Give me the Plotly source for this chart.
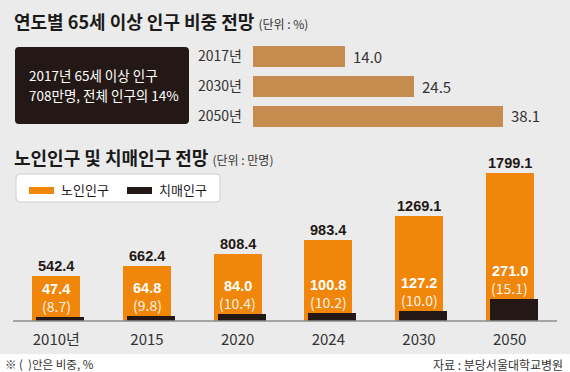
import plotly.graph_objects as go

# ---------------- data ----------------
share_years = ["2017년", "2030년", "2050년"]
share_values = [14.0, 24.5, 38.1]

pop_years = ["2010년", "2015", "2020", "2024", "2030", "2050"]
elderly_pop = [542.4, 662.4, 808.4, 983.4, 1269.1, 1799.1]
dementia_pop = [47.4, 64.8, 84.0, 100.8, 127.2, 271.0]
dementia_share = [8.7, 9.8, 10.4, 10.2, 10.0, 15.1]

W, H = 570, 372
def px(v):
    return v / W
def py(v):
    return 1 - v / H

BG = "#ebebeb"
ORANGE = "#f0860a"
DARK = "#231815"
TAN = "#c68b4f"
CJK = "Noto Sans CJK KR"
NARROW = "Liberation Sans Narrow, Noto Sans CJK KR"
SANS = "Liberation Sans, Noto Sans CJK KR"

fig = go.Figure()

# top horizontal bars
fig.add_trace(go.Bar(
    x=share_values, y=share_years, orientation="h",
    marker=dict(color=TAN, line=dict(width=0)), width=0.7,
    xaxis="x", yaxis="y", hoverinfo="skip", showlegend=False,
))

# bottom overlay bars
fig.add_trace(go.Bar(
    x=pop_years, y=elderly_pop, marker=dict(color=ORANGE, line=dict(width=0)),
    width=0.53, offset=-0.265, xaxis="x2", yaxis="y2",
    hoverinfo="skip", showlegend=False,
))
fig.add_trace(go.Bar(
    x=pop_years, y=dementia_pop, marker=dict(color=DARK, line=dict(width=0)),
    width=0.53, offset=-0.221, xaxis="x2", yaxis="y2",
    hoverinfo="skip", showlegend=False,
))

shapes = []
annotations = []

# gray background
shapes.append(dict(type="rect", xref="paper", yref="paper", x0=0, x1=1,
                   y0=py(354), y1=1, fillcolor=BG, line=dict(width=0), layer="below"))

def rounded(x0, y0, x1, y1, r):
    X0, X1 = px(x0), px(x1)
    Y0, Y1 = py(y0), py(y1)
    rx, ry = r / W, r / H
    return (f"M {X0+rx},{Y0} L {X1-rx},{Y0} Q {X1},{Y0} {X1},{Y0-ry} "
            f"L {X1},{Y1+ry} Q {X1},{Y1} {X1-rx},{Y1} L {X0+rx},{Y1} "
            f"Q {X0},{Y1} {X0},{Y1+ry} L {X0},{Y0-ry} Q {X0},{Y0} {X0+rx},{Y0} Z")

# dark info box
shapes.append(dict(type="path", xref="paper", yref="paper",
                   path=rounded(15, 47, 189, 124, 4), fillcolor=DARK,
                   line=dict(width=0), layer="below"))
annotations.append(dict(xref="paper", yref="paper", x=px(27), y=py(75),
                        xanchor="left", yanchor="middle", showarrow=False,
                        text="2017년 65세 이상 인구",
                        font=dict(family=NARROW, size=13.5, color="white")))
annotations.append(dict(xref="paper", yref="paper", x=px(27), y=py(95),
                        xanchor="left", yanchor="middle", showarrow=False,
                        text="708만명, 전체 인구의 14%",
                        font=dict(family=NARROW, size=13.5, color="white")))

# titles
annotations.append(dict(xref="paper", yref="paper", x=px(12), y=py(21),
                        xanchor="left", yanchor="middle", showarrow=False,
                        text="<b>연도별 65세 이상 인구 비중 전망</b> <span style='font-size:12px;color:#333333'>(단위 : %)</span>",
                        font=dict(family=CJK, size=18, color="#1a1a1a")))
annotations.append(dict(xref="paper", yref="paper", x=px(12), y=py(157),
                        xanchor="left", yanchor="middle", showarrow=False,
                        text="<b>노인인구 및 치매인구 전망</b> <span style='font-size:12px;color:#333333'>(단위 : 만명)</span>",
                        font=dict(family=CJK, size=18, color="#1a1a1a")))

# legend box
shapes.append(dict(type="path", xref="paper", yref="paper",
                   path=rounded(16, 174, 220, 202, 4), fillcolor="white",
                   line=dict(color="#cfcfcf", width=1), layer="below"))
shapes.append(dict(type="rect", xref="paper", yref="paper", x0=px(29), x1=px(54),
                   y0=py(194), y1=py(187), fillcolor=ORANGE, line=dict(width=0)))
shapes.append(dict(type="rect", xref="paper", yref="paper", x0=px(127), x1=px(152),
                   y0=py(194), y1=py(187), fillcolor=DARK, line=dict(width=0)))
annotations.append(dict(xref="paper", yref="paper", x=px(59), y=py(189),
                        xanchor="left", yanchor="middle", showarrow=False,
                        text="노인인구", font=dict(family=CJK, size=13, color="#1a1a1a")))
annotations.append(dict(xref="paper", yref="paper", x=px(157), y=py(189),
                        xanchor="left", yanchor="middle", showarrow=False,
                        text="치매인구", font=dict(family=CJK, size=13, color="#1a1a1a")))

# baseline
shapes.append(dict(type="line", xref="paper", yref="paper", x0=px(13), x1=px(557),
                   y0=py(321), y1=py(321), line=dict(color="#8c8c8c", width=1.5)))

# top bar value labels
for i, v in enumerate(share_values):
    annotations.append(dict(xref="x", yref="y", x=v, y=i, xanchor="left",
                            yanchor="middle", xshift=6, showarrow=False,
                            text=f"{v:.1f}",
                            font=dict(family=NARROW, size=15, color="#333333")))

# bottom labels (category index used for x)
for i, (tot, dem, sh) in enumerate(zip(elderly_pop, dementia_pop, dementia_share)):
    annotations.append(dict(xref="x2", yref="y2", x=i, y=tot, xanchor="center",
                            yanchor="middle", yshift=10, showarrow=False,
                            text=f"<b>{tot:.1f}</b>",
                            font=dict(family=SANS, size=14.5, color=DARK)))
    annotations.append(dict(xref="x2", yref="y2", x=i, y=dem, xanchor="center",
                            yanchor="middle", yshift=28, showarrow=False,
                            text=f"<b>{dem:.1f}</b>",
                            font=dict(family=SANS, size=14.5, color="white")))
    annotations.append(dict(xref="x2", yref="y2", x=i, y=dem, xanchor="center",
                            yanchor="middle", yshift=11, showarrow=False,
                            text=f"({sh:.1f})",
                            font=dict(family=NARROW, size=14, color="#fff3e6")))

# footnotes
annotations.append(dict(xref="paper", yref="paper", x=px(3), y=py(364),
                        xanchor="left", yanchor="middle", showarrow=False,
                        text="※ (  )안은 비중, %",
                        font=dict(family=CJK, size=11.5, color="#333333")))
annotations.append(dict(xref="paper", yref="paper", x=px(565), y=py(364),
                        xanchor="right", yanchor="middle", showarrow=False,
                        text="자료 : 분당서울대학교병원",
                        font=dict(family=CJK, size=12, color="#333333")))

fig.update_layout(
    width=W, height=H,
    margin=dict(l=0, r=0, t=0, b=0),
    paper_bgcolor="white", plot_bgcolor="rgba(0,0,0,0)",
    barmode="overlay", bargap=0,
    shapes=shapes, annotations=annotations,
    xaxis=dict(domain=[px(253), px(560)], range=[0, (560 - 253) / 6.562],
               visible=False, fixedrange=True),
    yaxis=dict(domain=[py(130.5), py(41.5)], type="category",
               range=[2.5, -0.5], showgrid=False, zeroline=False, showline=False,
               ticks="", ticklabelstandoff=10,
               tickfont=dict(family=NARROW, size=14, color="#333333"),
               fixedrange=True),
    xaxis2=dict(domain=[px(11), px(555)], type="category", range=[-0.5, 5.5],
                anchor="y2", showgrid=False, zeroline=False, showline=False,
                ticks="", ticklabelstandoff=8,
                tickfont=dict(family=NARROW, size=15, color="#333333"),
                fixedrange=True),
    yaxis2=dict(domain=[py(321), py(165)], range=[0, 156 / 0.0824],
                visible=False, fixedrange=True),
)

fig.write_html("out.html", config={"displayModeBar": False},
               post_script="document.body.style.margin='0px';document.body.style.overflow='hidden';")
